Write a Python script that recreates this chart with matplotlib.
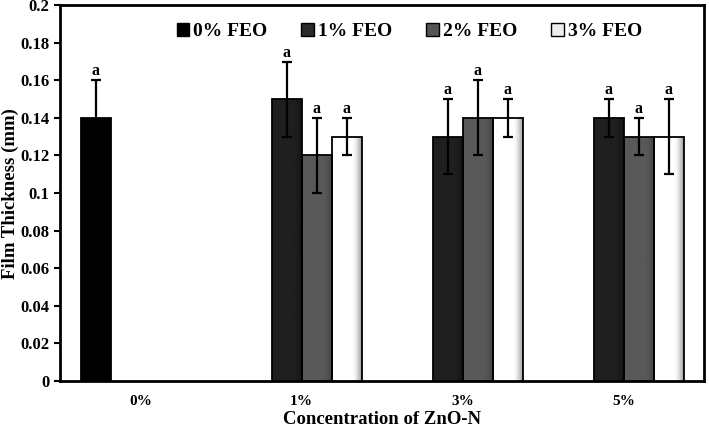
import numpy as np
import matplotlib
matplotlib.use("Agg")
import matplotlib.pyplot as plt
from matplotlib.ticker import FuncFormatter

# data
categories = ["0%", "1%", "3%", "5%"]
series = ["0% FEO", "1% FEO", "2% FEO", "3% FEO"]
feo0 = [0.14, np.nan, np.nan, np.nan]
feo1 = [np.nan, 0.15, 0.13, 0.14]
feo2 = [np.nan, 0.12, 0.14, 0.13]
feo3 = [np.nan, 0.13, 0.14, 0.13]
err0 = [0.02, 0, 0, 0]
err1 = [0, 0.02, 0.02, 0.01]
err2 = [0, 0.02, 0.02, 0.01]
err3 = [0, 0.01, 0.01, 0.02]
letters = ["a", "a", "a", "a"]

values = [feo0, feo1, feo2, feo3]
errors = [err0, err1, err2, err3]
colors = ["#000000", "#1f1f1f", "#595959", "#ffffff"]
shade = ["#000000", "#141414", "#444444", "#9a9a9a"]

plt.rcParams["font.family"] = ["Liberation Serif", "DejaVu Serif"]
plt.rcParams["font.weight"] = "bold"

fig = plt.figure(figsize=(7.09, 4.30), dpi=100)
ax = fig.add_axes([0.0846, 0.114, 0.909, 0.874])

x = np.arange(len(categories))
w = 0.186

def gradient_fill(bar, c1, c2):
    # light body fading to a darker right edge
    bx, by = bar.get_x(), bar.get_y()
    bw, bh = bar.get_width(), bar.get_height()
    t = np.linspace(0, 1, 60)
    prof = np.clip((t - 0.7) / 0.3, 0, 1) ** 1.5
    a = np.array(matplotlib.colors.to_rgb(c1))
    b = np.array(matplotlib.colors.to_rgb(c2))
    img = (1 - prof)[:, None] * a + prof[:, None] * b
    img = img[None, :, :]
    im = ax.imshow(img, extent=[bx, bx + bw, by, by + bh], aspect="auto",
                   zorder=bar.get_zorder() - 0.1, interpolation="bilinear")
    im.set_clip_path(bar)

for j in range(4):
    vals = np.array(values[j], dtype=float)
    errs = np.array(errors[j], dtype=float)
    pos = x + (j - 1.5) * w
    bars = ax.bar(pos, vals, w, color=colors[j], edgecolor="black",
                  linewidth=1.3, zorder=3, label=series[j])
    for k, b in enumerate(bars):
        if np.isnan(vals[k]):
            continue
        if j > 0:
            b.set_facecolor("none")
            gradient_fill(b, colors[j], shade[j])
        ax.errorbar(pos[k], vals[k], yerr=errs[k], fmt="none", ecolor="black",
                    elinewidth=1.6, capsize=3.5, capthick=1.6, zorder=4)
        ax.text(pos[k], vals[k] + errs[k] + 0.0005, letters[j], ha="center",
                va="bottom", fontsize=11.5, fontweight="bold", zorder=5)

ax.set_xlim(-0.5, 3.5)
ax.set_ylim(0, 0.2)
ax.set_yticks(np.arange(0, 0.201, 0.02))
ax.yaxis.set_major_formatter(FuncFormatter(lambda v, p: "%g" % round(v, 2)))
ax.set_xticks(x)
ax.set_xticklabels(categories)
ax.tick_params(axis="x", length=0, pad=10, labelsize=11)
ax.tick_params(axis="y", length=4, width=1.5, direction="out", labelsize=12)
for s in ax.spines.values():
    s.set_linewidth(2)

ax.set_ylabel("Film Thickness (mm)", fontsize=13.5, fontweight="bold")
ax.yaxis.set_label_coords(-0.064, 0.5)
ax.set_xlabel("Concentration of ZnO-N", fontsize=13.5, fontweight="bold", labelpad=2)

handles = [matplotlib.patches.Patch(facecolor=c, edgecolor="black", linewidth=1)
           for c in ["#000000", "#2a2a2a", "#555555", "#eeeeee"]]
ax.legend(handles, series, loc="upper center", bbox_to_anchor=(0.542, 1.0),
          ncol=4, frameon=False, handlelength=0.65,
          handleheight=0.65, handletextpad=0.2, columnspacing=1.75,
          prop={"weight": "bold", "size": 14})

fig.savefig("out.png", dpi=100)
